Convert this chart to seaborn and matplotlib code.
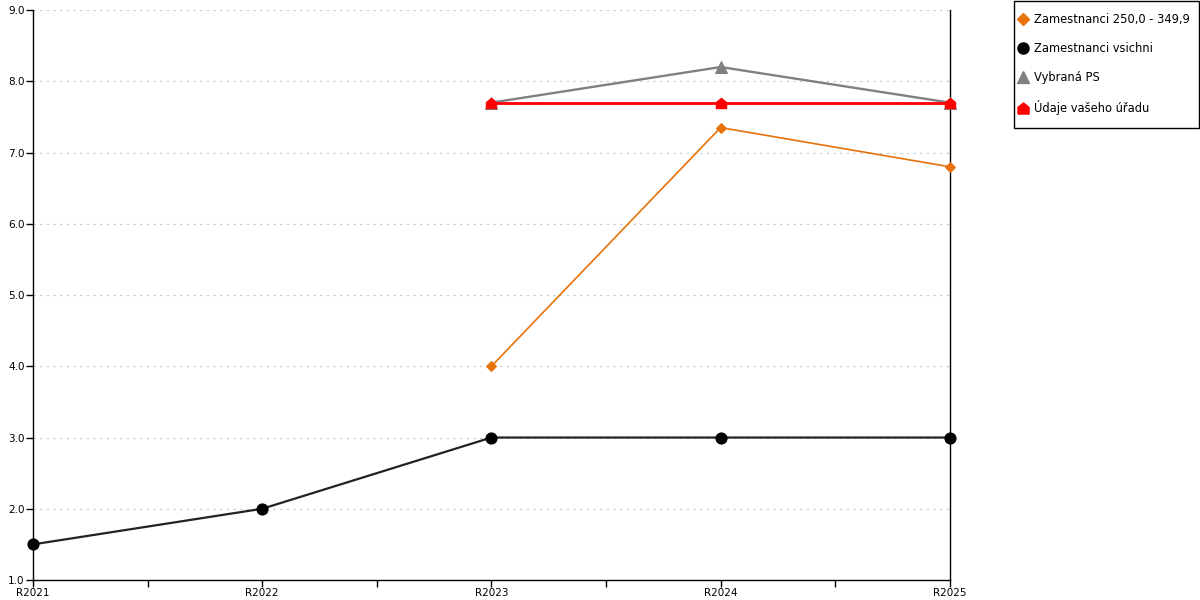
import pandas as pd
import numpy as np
import seaborn as sns
import matplotlib.pyplot as plt
from matplotlib.lines import Line2D
from matplotlib.patches import Rectangle
from matplotlib.ticker import FormatStrFormatter, MultipleLocator

years = ['R2021', 'R2022', 'R2023', 'R2024', 'R2025']
vsichni = [1.5, 2.0, 3.0, 3.0, 3.0]
zam_250 = [np.nan, np.nan, 4.0, 7.35, 6.8]
vybrana_ps = [np.nan, np.nan, 7.7, 8.2, 7.7]
urad = [np.nan, np.nan, 7.7, 7.7, 7.7]

names = ['Zamestnanci 250,0 - 349,9', 'Zamestnanci vsichni', 'Vybraná PS', 'Údaje vašeho úřadu']

house = [(-1, -1), (1, -1), (1, 0.2), (0, 1), (-1, 0.2), (-1, -1)]

rows = []
for name, vals in zip(names, [zam_250, vsichni, vybrana_ps, urad]):
    for i, v in enumerate(vals):
        if not np.isnan(v):
            rows.append({'pos': i, 'year': years[i], 'value': v, 'series': name})
df = pd.DataFrame(rows)

sns.set_style('white')
plt.rcParams['font.family'] = ['DejaVu Sans']

fig = plt.figure(figsize=(12, 6), dpi=100)
ax = fig.add_axes([0.0275, 0.0333, 0.764, 0.95])

# draw order: black, gray, red, orange
style = {
    'Zamestnanci vsichni': dict(color='#222222', lw=1.6, marker='o', ms=8, mfc='black', mec='black', z=3),
    'Vybraná PS': dict(color='#808080', lw=1.7, marker='^', ms=8, mfc='#808080', mec='#808080', z=3),
    'Údaje vašeho úřadu': dict(color='#FF0000', lw=2.0, marker=house, ms=7.5, mfc='#FF0000', mec='#FF0000', z=4),
    'Zamestnanci 250,0 - 349,9': dict(color='#E8720C', lw=1.2, marker='D', ms=5.5, mfc='#E8720C', mec='#E8720C', z=5),
}
for name in ['Zamestnanci vsichni', 'Vybraná PS', 'Údaje vašeho úřadu', 'Zamestnanci 250,0 - 349,9']:
    s = style[name]
    sub = df[df['series'] == name]
    sns.lineplot(data=sub, x='pos', y='value', ax=ax, color=s['color'], linewidth=s['lw'],
                 marker=s['marker'], markersize=s['ms'], markerfacecolor=s['mfc'],
                 markeredgecolor=s['mec'], zorder=s['z'], clip_on=False)

ax.set_xlim(0, 4)
ax.set_ylim(1.0, 9.0)
ax.set_xticks(range(len(years)))
ax.set_xticklabels(years)
ax.xaxis.set_minor_locator(MultipleLocator(0.5))
ax.yaxis.set_major_locator(MultipleLocator(1.0))
ax.yaxis.set_major_formatter(FormatStrFormatter('%.1f'))
ax.set_xlabel('')
ax.set_ylabel('')
ax.tick_params(axis='both', which='both', direction='out', length=5, width=1,
               color='black', labelcolor='black', labelsize=7.5, pad=1, bottom=True, left=True)
ax.grid(axis='y', linestyle=(0, (2, 4)), color='#C8C8C8', linewidth=0.8)
ax.grid(axis='x', visible=False)
for side in ['left', 'bottom', 'right']:
    ax.spines[side].set_visible(True)
    ax.spines[side].set_color('black')
    ax.spines[side].set_linewidth(1)
ax.spines['top'].set_visible(False)

# legend box drawn separately
fig.add_artist(Rectangle((1013.5 / 1200, 1 - 127.5 / 600), 185.5 / 1200, 127 / 600,
                         transform=fig.transFigure, facecolor='white', edgecolor='black',
                         linewidth=1, zorder=1))

handles = []
for name in names:
    s = style[name]
    handles.append(Line2D([], [], linestyle='none', marker=s['marker'],
                          markersize=8 if name != 'Zamestnanci 250,0 - 349,9' else 6.5,
                          markerfacecolor=s['mfc'], markeredgecolor=s['mec']))
leg = fig.legend(handles, names, loc='upper left', bbox_to_anchor=(1019 / 1200, 1 - 13 / 600),
                 frameon=False, fontsize=8.3,
                 labelspacing=1.39, handlelength=0.7, handletextpad=0.6,
                 borderpad=0, borderaxespad=0)
leg.set_zorder(2)
for t in leg.get_texts():
    t.set_color('black')

fig.savefig('out.png', dpi=100)
